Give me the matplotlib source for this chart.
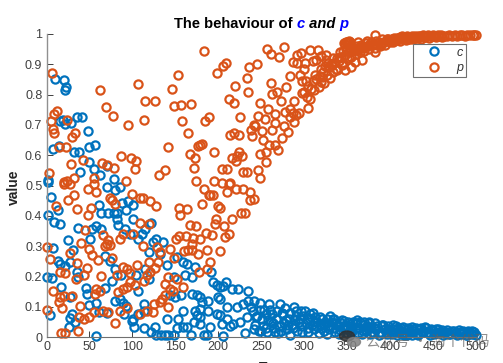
import matplotlib
matplotlib.use('Agg')
import matplotlib.pyplot as plt
from matplotlib.patches import Ellipse

# values
c_x = [10, 20, 23, 22, 16, 19, 22, 29, 35, 41,
       48, 8, 14, 50, 56, 32, 38, 49, 55, 39,
       62, 70, 78, 2, 2, 5, 2, 13, 9, 16,
       37, 51, 25, 7, 31, 13, 16, 21, 27, 35,
       37, 0, 6, 17, 27, 46, 47, 49, 58, 30,
       27, 26, 33, 4, 58, 61, 64, 72, 79, 82,
       71, 80, 86, 88, 95, 93, 101, 101, 82, 83,
       91, 58, 53, 64, 97, 107, 111, 115, 122, 124,
       128, 136, 119, 132, 68, 74, 80, 87, 104, 76,
       68, 80, 86, 89, 113, 93, 61, 70, 90, 101,
       99, 102, 113, 107, 114, 122, 126, 128, 133, 138,
       142, 148, 140, 153, 152, 159, 159, 163, 168, 183,
       187, 175, 169, 157, 150, 144, 140, 115, 119, 107,
       159, 152, 163, 173, 169, 161, 148, 192, 194, 198,
       202, 209, 206, 216, 223, 234, 200, 202, 179, 181,
       188, 173, 179, 188, 175, 179, 172, 179, 190, 198,
       202, 210, 222, 229, 235, 204, 210, 214, 217, 225,
       233, 231, 206, 238, 241, 243, 245, 247, 249, 251,
       253, 255, 257, 259, 261, 263, 265, 267, 269, 272,
       274, 276, 278, 280, 282, 284, 286, 288, 290, 292,
       294, 296, 298, 301, 303, 305, 307, 309, 311, 313,
       315, 317, 319, 321, 323, 325, 327, 330, 332, 334,
       336, 338, 340, 343, 346, 348, 350, 353, 356, 359,
       361, 364, 367, 369, 372, 375, 378, 381, 384, 387,
       390, 392, 395, 398, 401, 404, 407, 410, 413, 416,
       419, 422, 425, 428, 431, 434, 437, 441, 444, 447,
       450, 453, 456, 459, 462, 465, 468, 472, 475, 478,
       480, 483, 486, 489, 492, 495, 497, 500]
c_y = [.852, .849, .824, .816, .714, .716, .702, .705, .727, .725,
       .68, .622, .63, .628, .635, .61, .61, .579, .555, .543,
       .534, .565, .521, .517, .51, .462, .404, .418, .378, .373,
       .36, .324, .319, .294, .286, .252, .241, .234, .247, .214,
       .197, .198, .195, .164, .131, .161, .141, .106, .112, .076,
       .062, .032, .051, .073, .003, .434, .41, .41, .41, .409,
       .495, .484, .495, .443, .449, .418, .437, .388, .39, .368,
       .357, .365, .355, .357, .341, .324, .341, .357, .377, .313,
       .322, .315, .28, .275, .267, .252, .225, .203, .206, .186,
       .161, .12, .126, .112, .109, .101, .082, .078, .076, .06,
       .054, .032, .03, .076, .087, .015, .032, .007, .007, .007,
       .007, .007, .06, .06, .03, .087, .034, .034, .007, .007,
       .007, .137, .142, .137, .131, .137, .236, .225, .192, .153,
       .247, .263, .241, .23, .197, .203, .197, .214, .181, .17,
       .164, .183, .168, .159, .157, .153, .131, .126, .131, .115,
       .118, .087, .093, .087, .071, .065, .049, .043, .034, .076,
       .071, .098, .098, .109, .12, .043, .06, .037, .043, .049,
       .065, .013, .003, .10, .12, .04, .07, .02, .112, .06,
       .09, .03, .015, .109, .05, .075, .03, .06, .012, .109,
       .08, .045, .095, .025, .06, .008, .04, .098, .07, .02,
       .05, .085, .035, .087, .06, .015, .075, .04, .025, .065,
       .05, .012, .03, .06, .02, .045, .01, .07, .05, .03,
       .018, .04, .01, .045, .054, .025, .012, .035, .02, .045,
       .057, .03, .01, .04, .02, .051, .03, .012, .025, .008,
       .035, .04, .018, .028, .01, .025, .037, .015, .03, .008,
       .022, .012, .032, .02, .01, .025, .015, .032, .018, .008,
       .024, .012, .026, .015, .008, .018, .01, .021, .012, .007,
       .024, .01, .015, .006, .018, .021, .01, .008]

# dense part of the c band, right of about 240
c_band_x = [240, 244, 248, 252, 256, 260, 264, 268, 271, 275,
            279, 283, 287, 291, 295, 299, 302, 306, 310, 314,
            318, 322, 326, 329, 333, 337, 341, 344, 347, 351,
            354, 357, 360, 362, 365, 368, 370, 373, 376, 379,
            382, 385, 388, 391, 394, 397, 400, 403, 406, 409,
            412, 415, 418, 421, 424, 427, 430, 433, 436, 439,
            442, 445, 448, 451, 454, 457, 460, 463, 466, 470,
            474, 477, 481, 485, 488, 491, 494, 498, 241, 250,
            258, 266, 273, 281, 289, 297, 304, 312, 320, 328,
            335, 342, 349, 355, 363, 371, 377, 383, 389, 396,
            402, 408, 414, 420, 426, 432]
c_band_y = [.085, .065, .09, .035, .075, .09, .045, .085, .035, .075,
            .055, .08, .03, .085, .06, .07, .045, .062, .08, .035,
            .065, .045, .06, .025, .06, .045, .035, .055, .04, .05,
            .03, .05, .03, .045, .05, .02, .05, .035, .045, .015,
            .045, .035, .015, .04, .025, .035, .02, .038, .015, .03,
            .02, .034, .012, .03, .018, .028, .03, .012, .03, .02,
            .03, .012, .028, .01, .025, .012, .024, .012, .022, .01,
            .02, .012, .015, .02, .008, .02, .01, .015, .025, .02,
            .055, .015, .02, .04, .055, .015, .03, .05, .04, .035,
            .06, .022, .03, .012, .012, .028, .01, .03, .012, .01,
            .012, .008, .01, .008, .008, .006]

p_x = [6, 183, 236, 209, 205, 198, 233, 219, 234, 153,
       106, 146, 62, 69, 77, 115, 126, 149, 157, 168,
       212, 218, 225, 95, 114, 158, 184, 189, 165, 214,
       218, 224, 239, 238, 5, 9, 12, 24, 7, 9,
       33, 30, 14, 23, 141, 176, 179, 181, 167, 195,
       173, 87, 98, 104, 42, 29, 65, 71, 78, 103,
       172, 204, 210, 131, 138, 3, 55, 32, 24, 20,
       92, 174, 195, 204, 214, 216, 221, 222, 224, 228,
       229, 233, 382, 245, 257, 261, 276, 271, 287, 292,
       296, 292, 301, 307, 310, 314, 316, 319, 325, 325,
       300, 295, 283, 313, 297, 302, 321, 261, 279, 263,
       268, 273, 248, 288, 304, 258, 266, 246, 254, 266,
       262, 277, 288, 281, 274, 252, 241, 243, 259, 266,
       270, 248, 255, 256, 246, 249, 251, 278, 283, 287,
       290, 294, 284, 297, 303, 307, 311, 317, 323, 330,
       332, 338, 341, 344, 348, 354, 359, 367, 363, 346,
       352, 350, 356, 363, 373, 383, 389, 398, 408, 414,
       425, 1, 1, 4, 11, 25, 32, 36, 48, 52,
       48, 45, 40, 27, 35, 47, 50, 53, 60, 16,
       22, 34, 44, 8, 16, 20, 14, 18, 30, 39,
       38, 44, 50, 55, 58, 56, 64, 62, 66, 72,
       37, 17, 22, 80, 85, 94, 83, 89, 94, 97,
       103, 89, 94, 97, 82, 76, 66, 72, 68, 74,
       70, 86, 89, 101, 112, 105, 119, 130, 126, 121,
       117, 113, 125, 117, 109, 124, 134, 138, 132, 141,
       138, 142, 144, 147, 152, 159, 178, 187, 190, 187,
       176, 202, 169, 160, 165, 148, 144, 129, 132, 151,
       154, 162, 169, 171, 179, 186, 193, 167, 174, 196,
       197, 207, 212, 208, 216, 181, 154, 163, 155, 200,
       202, 227, 231, 74, 76, 80, 100, 109, 112, 120,
       127, 109, 119, 183, 190, 189, 194, 210, 213, 221,
       229, 237, 237, 55, 58, 20, 27, 241, 300, 304,
       308, 310, 314, 318, 320, 322, 326, 329, 333, 335,
       337, 340, 343, 345, 347, 350, 352, 355, 357, 360,
       362, 365, 368, 370, 373, 376, 379, 382, 385, 388,
       391, 394, 397, 400, 403, 406, 409, 412, 415, 418,
       421, 424, 427, 430, 433, 436, 439, 442, 445, 448,
       451, 454, 457, 460, 463, 466, 469, 472, 475, 478,
       481, 484, 487, 490, 493, 496, 498, 500]
p_y = [.87, .945, .89, .905, .895, .87, .855, .83, .81, .865,
       .835, .82, .815, .76, .73, .78, .78, .762, .767, .77,
       .787, .773, .725, .70, .717, .713, .714, .726, .674, .667,
       .672, .667, .662, .683, .714, .736, .745, .716, .685, .672,
       .674, .659, .627, .627, .628, .632, .635, .638, .605, .609,
       .59, .596, .59, .58, .583, .57, .574, .567, .558, .556,
       .558, .556, .555, .535, .55, .541, .525, .525, .514, .51,
       .516, .514, .515, .507, .508, .59, .58, .596, .61, .598,
       .544, .545, .997, .90, .95, .933, .958, .923, .907, .93,
       .938, .905, .905, .946, .91, .914, .947, .928, .93, .914,
       .883, .865, .861, .865, .845, .846, .859, .838, .825, .803,
       .807, .78, .772, .78, .757, .753, .735, .729, .719, .707,
       .683, .695, .708, .675, .656, .65, .70, .696, .635, .633,
       .617, .605, .609, .578, .55, .526, .68, .743, .754, .738,
       .732, .738, .727, .804, .793, .787, .815, .826, .837, .854,
       .898, .881, .92, .898, .881, .892, .909, .914, .947, .971,
       .978, .975, .958, .972, .977, .942, .964, .982, .986, .993,
       .991, .09, .298, .256, .432, .451, .467, .421, .49, .427,
       .404, .352, .31, .277, .245, .229, .289, .271, .254, .216,
       .212, .19, .203, .151, .131, .135, .115, .096, .135, .101,
       .065, .06, .065, .084, .157, .142, .201, .153, .087, .082,
       .021, .013, .013, .046, .087, .095, .148, .157, .164, .181,
       .17, .23, .223, .212, .205, .26, .335, .319, .30, .302,
       .308, .324, .341, .341, .30, .238, .247, .249, .227, .214,
       .203, .184, .109, .087, .076, .082, .126, .137, .117, .098,
       .175, .197, .159, .153, .192, .164, .214, .223, .249, .286,
       .275, .283, .286, .283, .286, .26, .291, .297, .28, .324,
       .333, .333, .308, .326, .324, .344, .338, .37, .365, .374,
       .388, .365, .341, .33, .39, .438, .426, .421, .404, .432,
       .426, .41, .41, .459, .451, .44, .473, .46, .46, .449,
       .432, .377, .372, .49, .47, .467, .467, .478, .506, .487,
       .487, .478, .451, .506, .478, .506, .506, .456, .81, .83,
       .82, .845, .85, .86, .84, .875, .865, .89, .875, .905,
       .885, .91, .925, .905, .93, .92, .94, .925, .945, .935,
       .95, .94, .955, .945, .96, .95, .965, .955, .965, .96,
       .97, .965, .98, .972, .975, .98, .985, .978, .99, .98,
       .985, .99, .982, .988, .992, .985, .99, .993, .988, .992,
       .995, .99, .993, .99, .995, .992, .996, .994, .998, .993,
       .996, .998, .995, .998, .997, .996, .998, .997]

# dense part of the p band
p_band_x = [347, 349, 351, 353, 355, 358, 361, 364, 366, 369,
            372, 375, 378, 381, 384, 387, 390, 393, 396, 399,
            402, 405, 408, 411, 414, 417, 420, 423, 426, 429,
            432, 435, 438, 441, 444, 447, 450, 453, 456, 459,
            320, 324, 328, 331, 334, 338, 342, 345, 349, 353]
p_band_y = [.968, .973, .972, .975, .965, .955, .96, .955, .965, .96,
            .97, .965, .975, .968, .978, .972, .982, .975, .985, .978,
            .985, .988, .98, .99, .985, .99, .993, .985, .992, .995,
            .988, .994, .996, .99, .996, .993, .998, .995, .997, .996,
            .885, .895, .905, .90, .92, .92, .94, .945, .95, .955]

x_ticks = list(range(0, 501, 50))
y_ticks = [i / 10 for i in range(11)]
y_labels = ['0', '0.1', '0.2', '0.3', '0.4', '0.5', '0.6', '0.7', '0.8', '0.9', '1']
title_parts = [('The behaviour of ', 'black', 'normal'), ('c', 'blue', 'italic'),
               (' and ', 'black', 'italic'), ('p', 'blue', 'italic')]

plt.rcParams['font.family'] = ['Liberation Sans', 'DejaVu Sans']

W, H = 503, 363
fig = plt.figure(figsize=(W / 100, H / 100), dpi=100)
ax = fig.add_axes([46.5 / W, 1 - 337 / H, 429.5 / W, 303 / H])

blue = '#0072BD'
orange = '#D95319'
ax.plot(c_x + c_band_x, c_y + c_band_y, 'o', mfc='none', mec=blue, mew=1.6, ms=5.9, clip_on=False, label='c')
ax.plot(p_x + p_band_x, p_y + p_band_y, 'o', mfc='none', mec=orange, mew=1.6, ms=5.9, clip_on=False, label='p')

ax.set_xlim(0, 500)
ax.set_ylim(0, 1)
ax.set_xticks(x_ticks)
ax.set_yticks(y_ticks)
ax.set_yticklabels(y_labels)
ax.tick_params(direction='in', length=4, width=0.7, color='#404040', labelcolor='#404040',
               labelsize=9, pad=3)
ax.spines['top'].set_visible(False)
ax.spines['right'].set_visible(False)
ax.spines['left'].set_color('#909090')
ax.spines['left'].set_linewidth(1.0)
ax.spines['bottom'].set_color('#707070')
ax.spines['bottom'].set_linewidth(0.8)

leg = ax.legend(loc='upper left', bbox_to_anchor=(413 / W, 1 - 44 / H), bbox_transform=fig.transFigure,
                fancybox=False, framealpha=1, edgecolor='#707070', numpoints=1, borderaxespad=0,
                prop={'size': 9, 'style': 'italic'}, handlelength=3.0, handletextpad=0.3,
                borderpad=0.2, labelspacing=0.3)
leg.get_frame().set_linewidth(0.8)
for t in leg.get_texts():
    t.set_color('#303030')

# title is built piece by piece, the colours change inside it
renderer = fig.canvas.get_renderer()
x_pos = 174
for txt, col, sty in title_parts:
    t = fig.text(x_pos / W, 1 - 28 / H, txt, color=col, style=sty, weight='bold', fontsize=10.6)
    x_pos += t.get_window_extent(renderer).width

fig.text(14 / W, 1 - 187 / H, 'value', rotation=90, weight='bold', fontsize=10,
         color='#262626', ha='center', va='center')
# x label is cut by the lower edge of the picture
fig.text(263 / W, 1 - 361 / H, 'T', weight='bold', fontsize=10, color='#262626', ha='center', va='top')

# watermark
fig.add_artist(Ellipse((347 / W, 1 - 336 / H), 15 / W, 10 / H, color='#303030', alpha=0.85))
fig.add_artist(Ellipse((354 / W, 1 - 342 / H), 13 / W, 9 / H, color='#808080', alpha=0.85))
fig.text(366 / W, 1 - 342 / H, '公众号 · 淘个代码', color='#606060', alpha=0.7, fontsize=10.5,
         family=['Noto Sans CJK SC', 'DejaVu Sans'], va='center')

fig.savefig('out.png', dpi=100)
